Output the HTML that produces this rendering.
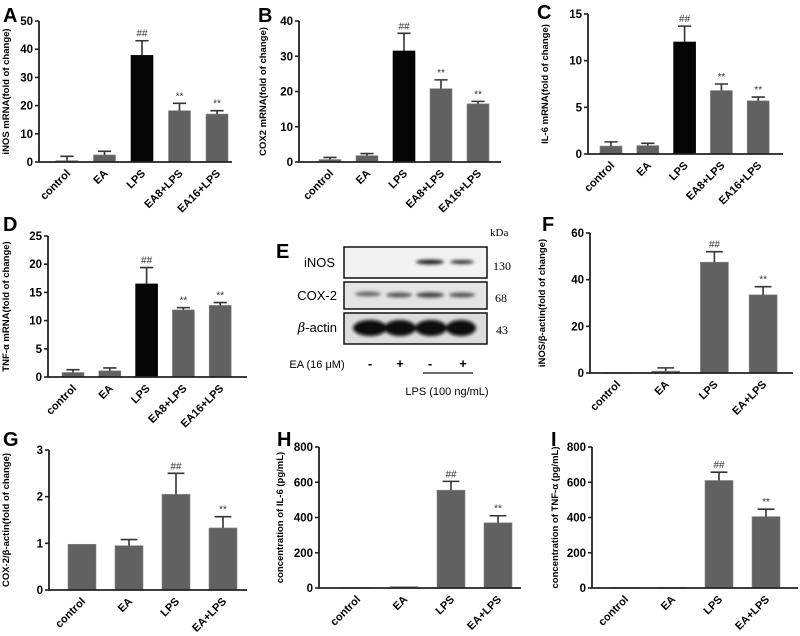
<!DOCTYPE html>
<html><head><meta charset="utf-8">
<style>
html,body{margin:0;padding:0;background:#fff;}
svg{display:block;font-family:"Liberation Sans",Arial,sans-serif;}
</style></head>
<body>
<svg id="fig" width="800" height="636" viewBox="0 0 800 636">
<defs><filter id="blur" x="-20%" y="-50%" width="140%" height="200%"><feGaussianBlur stdDeviation="1.6"/></filter></defs>
<g id="blot">
 <text x="276" y="258" font-size="20" font-weight="bold">E</text>
 <text x="490" y="236" font-size="11" font-family="Liberation Serif,serif">kDa</text>
 <rect x="344" y="247" width="143" height="31" fill="#f2f2f2" stroke="#111" stroke-width="1.5"/>
 <rect x="344" y="282" width="143" height="27" fill="#e4e4e4" stroke="#111" stroke-width="1.5"/>
 <rect x="344" y="313" width="143" height="31" fill="#dcdcdc" stroke="#111" stroke-width="1.5"/>
 <g filter="url(#blur)">
  <ellipse cx="430" cy="262" rx="14" ry="2.5" fill="#222"/>
  <ellipse cx="462" cy="262" rx="12" ry="2" fill="#333"/>
  <ellipse cx="368" cy="294" rx="13" ry="2.5" fill="#666"/>
  <ellipse cx="399" cy="295" rx="13" ry="2.5" fill="#555"/>
  <ellipse cx="430" cy="295" rx="14" ry="2.7" fill="#444"/>
  <ellipse cx="462" cy="295" rx="13" ry="2.5" fill="#555"/>
  <ellipse cx="370" cy="328" rx="17" ry="8" fill="#080808"/>
  <ellipse cx="400" cy="328" rx="16" ry="8" fill="#080808"/>
  <ellipse cx="431" cy="328" rx="16" ry="8" fill="#080808"/>
  <ellipse cx="461" cy="328" rx="15" ry="8" fill="#080808"/>
 </g>
 <text x="335" y="267" font-size="13" text-anchor="end">iNOS</text>
 <text x="337" y="300" font-size="13" text-anchor="end">COX-2</text>
 <text x="337" y="332" font-size="13" text-anchor="end"><tspan font-style="italic" font-family="DejaVu Serif,serif">β</tspan>-actin</text>
 <text x="493" y="270" font-size="12" font-family="Liberation Serif,serif">130</text>
 <text x="495" y="302" font-size="12" font-family="Liberation Serif,serif">68</text>
 <text x="496" y="334" font-size="12" font-family="Liberation Serif,serif">43</text>
 <text x="317" y="368" font-size="11" text-anchor="middle">EA (16 μM)</text>
 <text x="370" y="368" font-size="13" font-weight="bold" text-anchor="middle">-</text>
 <text x="400" y="368" font-size="13" font-weight="bold" text-anchor="middle">+</text>
 <text x="430" y="368" font-size="13" font-weight="bold" text-anchor="middle">-</text>
 <text x="463" y="368" font-size="13" font-weight="bold" text-anchor="middle">+</text>
 <line x1="423" y1="373" x2="473" y2="373" stroke="#111" stroke-width="1.3"/>
 <text x="447" y="395" font-size="11" text-anchor="middle">LPS (100 ng/mL)</text>
</g>
</svg>
<script>
const cats5 = ["control","EA","LPS","EA8+LPS","EA16+LPS"];
const cats4 = ["control","EA","LPS","EA+LPS"];
const aVals = [0.5, 2.5, 37.8, 18.2, 17.0];
const aErr  = [2.0, 3.8, 43.0, 20.8, 18.2];
const aTicks = [0,10,20,30,40,50];
const bVals = [0.7, 1.8, 31.5, 20.8, 16.5];
const bErr  = [1.3, 2.4, 36.5, 23.3, 17.2];
const bTicks = [0,10,20,30,40];
const cVals = [0.85, 0.9, 12.0, 6.8, 5.7];
const cErr  = [1.3, 1.15, 13.7, 7.5, 6.1];
const cTicks = [0,5,10,15];
const dVals = [0.8, 1.1, 16.5, 11.9, 12.7];
const dErr  = [1.3, 1.6, 19.4, 12.3, 13.2];
const dTicks = [0,5,10,15,20,25];
const fVals = [0.2, 0.8, 47.5, 33.5];
const fErr  = [0.2, 2.2, 52.0, 37.0];
const fTicks = [0,20,40,60];
const gVals = [0.98, 0.95, 2.05, 1.33];
const gErr  = [0.98, 1.08, 2.5, 1.57];
const gTicks = [0,1,2,3];
const hVals = [3, 8, 555, 370];
const hErr  = [3, 8, 605, 410];
const hTicks = [0,200,400,600,800];
const iVals = [3, 3, 610, 405];
const iErr  = [3, 3, 657, 447];
const iTicks = [0,200,400,600,800];
const sigMarks5 = ["","","##","**","**"];
const sigMarks4 = ["","","##","**"];

const NS="http://www.w3.org/2000/svg";
const svg=document.getElementById('fig');
function mk(tag,attrs,parent){const e=document.createElementNS(NS,tag);for(const k in attrs)e.setAttribute(k,attrs[k]);(parent||svg).appendChild(e);return e;}

function chart(id,letter,lx,ly,cats,vals,errs,ticks,sig,L,blackIdx,title,titleX){
  const g=mk('g',{});
  
  
  const ymax=ticks[ticks.length-1];
  const y=v=>L.y0-(v/ymax)*(L.y0-L.yTop);
  const x=i=>L.x0+L.first+i*L.step;
  const lt=mk('text',{x:lx,y:ly,'font-size':20,'font-weight':'bold'},g);lt.textContent=letter;
  
  
  const tt=mk('text',{x:0,y:0,'font-size':9.5,'font-weight':'bold','text-anchor':'middle',transform:`translate(${titleX},${(L.y0+L.yTop)/2}) rotate(-90)`},g);
  tt.textContent=title;
  
  
  cats.forEach((c,i)=>{
    const v=vals[i],cx=x(i),w=L.bw;
    const r=mk('rect',{x:cx-w/2,y:y(v),width:w,height:Math.max(0.8,L.y0-y(v)),fill:i===blackIdx?'#050505':'#616161',stroke:i===blackIdx?'#000':'#888','stroke-width':0.6},g);
    
    
    if(errs[i]>v+0.0001){
      const e=mk('path',{d:`M${cx},${y(v)}V${y(errs[i])}M${cx-w*0.3},${y(errs[i])}H${cx+w*0.3}`,stroke:'#333','stroke-width':1.6,fill:'none'},g);
      
      
    }
    if(sig[i]){
      const s=mk('text',{x:cx,y:y(errs[i])-4,'font-size':10,'text-anchor':'middle',fill:'#333'},g);s.textContent=sig[i];
      
      
    }
    const lb=mk('text',{x:0,y:0,'font-size':11,'font-weight':'bold','text-anchor':'end',transform:`translate(${cx+4},${L.y0+12}) rotate(-45)`},g);
    lb.textContent=c;
    
    
  });
  const ax=mk('path',{d:`M${L.x0},${L.yTop}V${L.y0}H${L.xEnd}`,stroke:'#222','stroke-width':1.8,fill:'none'},g);
  
  
  ticks.forEach(t=>{
    const tk=mk('line',{x1:L.x0-4,x2:L.x0,y1:y(t),y2:y(t),stroke:'#222','stroke-width':1.6},g);
    
    
    const tl=mk('text',{x:L.x0-6,y:y(t)+4,'font-size':11.5,'font-weight':'bold','text-anchor':'end'},g);tl.textContent=t;
    
    
  });
}
chart('a','A',3,22,cats5,aVals,aErr,aTicks,sigMarks5,{x0:39,yTop:21,y0:162,first:28,step:37.5,bw:22,xEnd:232},2,'iNOS mRNA(fold of change)',9);
chart('b','B',258,22,cats5,bVals,bErr,bTicks,sigMarks5,{x0:299,yTop:21,y0:162,first:31,step:37,bw:22,xEnd:501},2,'COX2 mRNA(fold of change)',266);
chart('c','C',537,19,cats5,cVals,cErr,cTicks,sigMarks5,{x0:588,yTop:14,y0:154,first:23,step:36.8,bw:22,xEnd:783},2,'IL-6 mRNA(fold of change)',548);
chart('d','D',3,231,cats5,dVals,dErr,dTicks,sigMarks5,{x0:48,yTop:236,y0:377,first:25,step:36.8,bw:22,xEnd:247},2,'TNF-α mRNA(fold of change)',9);
chart('f','F',542,231,cats4,fVals,fErr,fTicks,sigMarks4,{x0:590,yTop:233,y0:373,first:27,step:48.7,bw:28,xEnd:793},-1,'iNOS/β-actin(fold of change)',545);
chart('g','G',3,446,cats4,gVals,gErr,gTicks,sigMarks4,{x0:49,yTop:450,y0:590,first:33,step:47,bw:28,xEnd:247},-1,'COX-2/β-actin(fold of change)',9);
chart('h','H',277,446,cats4,hVals,hErr,hTicks,sigMarks4,{x0:319,yTop:447,y0:588,first:38,step:47,bw:28,xEnd:521},-1,'concentration of IL-6 (pg/mL)',283);
chart('i','I',551,446,cats4,iVals,iErr,iTicks,sigMarks4,{x0:592,yTop:447,y0:588,first:33,step:47,bw:28,xEnd:798},-1,'concentration of TNF-α (pg/mL)',558);
</script>
</body></html>
